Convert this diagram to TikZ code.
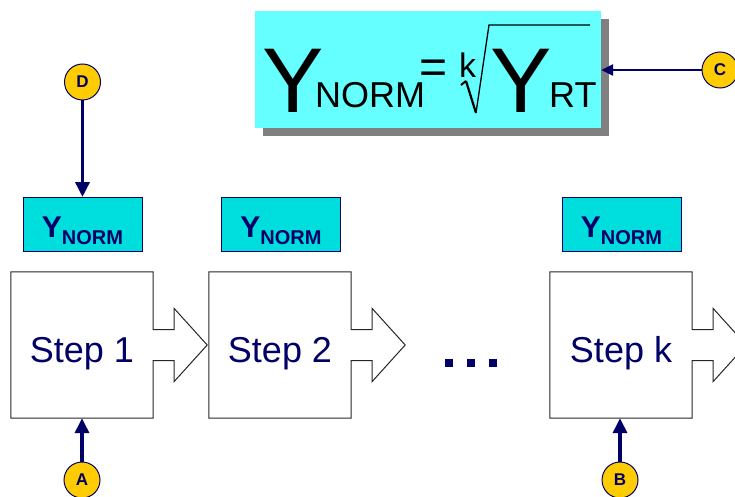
\documentclass[tikz,border=0pt]{standalone}
\usepackage{fontspec}
\setmainfont{Liberation Sans}
\usetikzlibrary{arrows.meta,calc}

\definecolor{navy}{HTML}{000066}
\definecolor{aqua}{HTML}{66FFFF}
\definecolor{tealbox}{HTML}{00DDDD}
\definecolor{gold}{HTML}{FFCC00}
\definecolor{shade}{HTML}{808080}

\tikzset{
  ybox/.style={draw=navy, line width=1pt, fill=tealbox, minimum width=119pt,
    minimum height=54pt, inner sep=0pt, text=navy, text height=25pt, text depth=0pt},
  stepbody/.style={minimum width=142pt, minimum height=146pt, inner sep=0pt,
    text=navy, font=\fontsize{36}{36}\selectfont, text height=34pt, text depth=0pt},
  stepline/.style={draw=black!85, line width=1pt},
  marker/.style={circle, draw=navy, line width=1pt, fill=gold, minimum size=36pt,
    inner sep=0pt, text=navy, font=\fontsize{17}{17}\selectfont\bfseries},
  feed/.style={navy, line width=3.5pt, -{Triangle[length=15pt,width=14pt]}},
  feedthin/.style={navy, line width=2.5pt, -{Triangle[length=12pt,width=11pt]}},
  dotsq/.style={fill=navy, minimum size=8pt, inner sep=0pt},
  formula/.style={anchor=base west, inner sep=0pt, text=black},
  panel/.style={minimum width=346pt, minimum height=117pt, inner sep=0pt}
}

% outline of a step: square body with an outgoing block arrow on its right side
\newcommand\stepoutline[1]{%
  \draw[stepline] (#1.north west) -- (#1.north east) -- ($(#1.east)+(0,-15.5)$)
    -- ++(21,0) -- ++(0,-21) -- ++(33,36.5) -- ++(-33,36.5) -- ++(0,-21)
    -- ++(-21,0) -- (#1.south east) -- (#1.south west) -- cycle;}

\newcommand\ynorm{{\fontsize{30}{30}\selectfont\bfseries Y}{\fontsize{20}{20}\selectfont\bfseries\raisebox{-7pt}{NORM}}}

\begin{document}
\begin{tikzpicture}[x=1pt, y=-1pt]
  \useasboundingbox (0,0) rectangle (735,497);

  % formula panel with drop shadow
  \node[panel, fill=shade] (fshadow) at (436,77.5) {};
  \node[panel, fill=aqua] (fbox) at (428,69.5) {};

  \node[formula, font=\fontsize{92}{92}\selectfont] (ya) at (262,113) {Y};
  \node[formula, font=\fontsize{36}{36}\selectfont] (norm) at (315,108) {NORM};
  \node[text=black, inner sep=0pt, font=\fontsize{48}{48}\selectfont] (eq) at (434,72) {=};
  \node[formula, font=\fontsize{34}{34}\selectfont] (kidx) at (459,78) {k};
  \draw[black, line width=2pt] (461,85) -- (466,81);
  \draw[black, line width=2.2pt] (466,81) -- (476,113);
  \draw[black, line width=1.3pt, line join=miter] (476,113) -- (489,25) -- (590,25);
  \node[formula, font=\fontsize{92}{92}\selectfont] (yb) at (490,113) {Y};
  \node[formula, font=\fontsize{36}{36}\selectfont] (rt) at (549,108) {RT};

  % normalised yield boxes
  \node[ybox] (y1) at (82.5,224.5) {\ynorm};
  \node[ybox] (y2) at (281,224.5) {\ynorm};
  \node[ybox] (y3) at (621.5,224.5) {\ynorm};

  % process steps
  \node[stepbody] (s1) at (82,345) {Step 1};
  \node[stepbody] (s2) at (280,345) {Step 2};
  \node[stepbody] (sk) at (621,345) {Step k};
  \stepoutline{s1}
  \stepoutline{s2}
  \stepoutline{sk}

  % ellipsis
  \node[dotsq] (d1) at (449,363) {};
  \node[dotsq] (d2) at (471,363) {};
  \node[dotsq] (d3) at (493,363) {};

  % callout markers
  \node[marker] (D) at (82.5,82) {D};
  \node[marker] (A) at (82,480) {A};
  \node[marker] (B) at (620,480) {B};
  \node[marker] (C) at (720,70) {C};

  \draw[feed] (D) -- (D |- y1.north);
  \draw[feed] (A) -- (A |- s1.south);
  \draw[feed] (B) -- (B |- sk.south);
  \draw[feedthin] (C) -- (C -| fbox.east);
\end{tikzpicture}
\end{document}
